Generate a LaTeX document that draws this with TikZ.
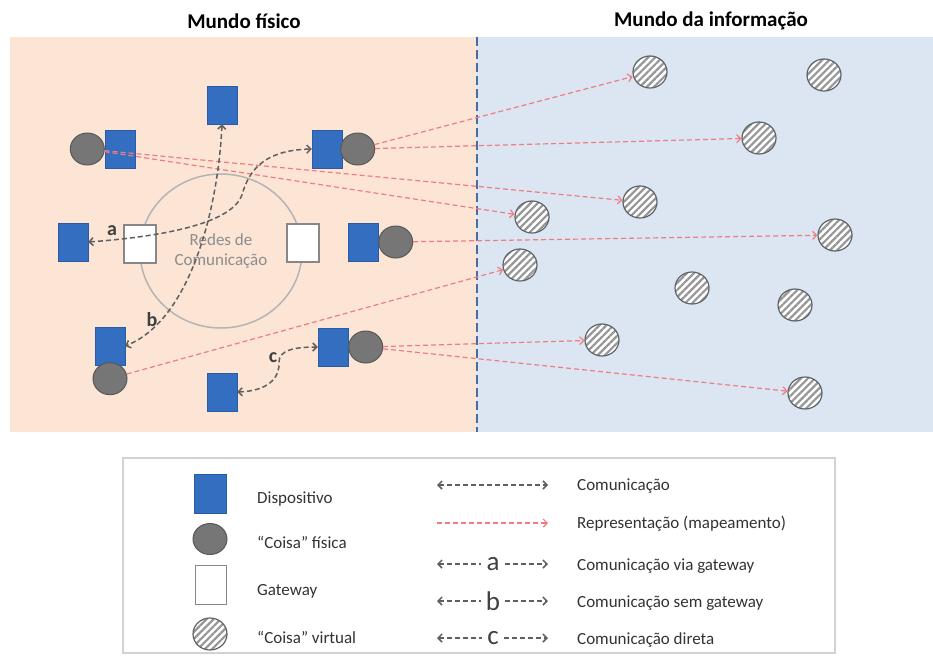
\documentclass[tikz,border=0pt]{standalone}
\usepackage{fontspec}
\setmainfont{Carlito}
\usetikzlibrary{arrows.meta,positioning,shapes.geometric,patterns.meta}

\definecolor{fisico}{RGB}{252,229,213}
\definecolor{info}{RGB}{220,230,242}
\definecolor{devblue}{RGB}{52,110,192}
\definecolor{devborder}{RGB}{42,92,165}
\definecolor{thinggray}{RGB}{118,118,118}
\definecolor{thingborder}{RGB}{88,88,88}
\definecolor{gwborder}{RGB}{135,135,135}
\definecolor{virtborder}{RGB}{95,100,105}
\definecolor{stripe}{RGB}{150,150,150}
\definecolor{netgray}{RGB}{180,180,180}
\definecolor{nettext}{RGB}{140,140,140}
\definecolor{repred}{RGB}{238,125,130}
\definecolor{commgray}{RGB}{95,95,95}
\definecolor{divider}{RGB}{72,108,168}

\begin{document}
\begin{tikzpicture}[x=1pt,y=-1pt,>={Straight Barb[length=4pt,width=8pt]},
    dispositivo/.style={draw=devborder,fill=devblue,minimum width=30pt,minimum height=38pt,inner sep=0pt},
    coisa/.style={ellipse,draw=thingborder,fill=thinggray,line width=1pt,minimum width=34pt,minimum height=32pt,inner sep=0pt},
    gateway/.style={draw=gwborder,fill=white,line width=1.2pt,minimum width=32pt,minimum height=38pt,inner sep=0pt},
    virtual/.style={ellipse,draw=virtborder,line width=1.2pt,preaction={fill=white},
        pattern={Lines[angle=45,distance=5pt,line width=2.2pt]},pattern color=stripe,
        minimum width=34pt,minimum height=32pt,inner sep=0pt},
    comm/.style={draw=commgray,line width=1.5pt,dash pattern=on 5pt off 3pt},
    repr/.style={draw=repred,line width=1.2pt,dash pattern=on 5pt off 3pt,->},
    titulo/.style={font=\fontsize{21}{24}\selectfont\bfseries},
    lab/.style={font=\fontsize{20}{20}\selectfont\bfseries,text=black!75,inner sep=1pt},
    leglet/.style={font=\fontsize{27}{27}\selectfont,text=black!75,inner xsep=5pt,inner ysep=0pt},
    legtext/.style={anchor=west,font=\fontsize{17}{20}\selectfont,text=black!80,inner sep=0pt}]

\useasboundingbox (0,0) rectangle (933,656);

% os dois mundos
\fill[fisico] (10,37) rectangle (477,432);
\fill[info] (477,37) rectangle (933,432);
\draw[divider,line width=2.5pt,dash pattern=on 9pt off 4pt] (477,37) -- (477,432);
\node[titulo] (tfis) at (244,21) {Mundo físico};
\node[titulo] (tinf) at (711,21) {Mundo da informação};

% rede e gateways
\node[ellipse,draw=netgray,line width=1.5pt,minimum width=162pt,minimum height=154pt,
      align=center,text=nettext,font=\fontsize{17}{20}\selectfont] (net) at (221,251) {Redes de\\Comunicação};
\node[gateway] (gw1) at (140,244) {};
\node[gateway] (gw2) at (303,243) {};

% dispositivos e coisas físicas
\node[dispositivo] (dev1) at (222,105) {};
\node[dispositivo] (dev2) at (120,149) {};
\node[coisa] (thing2) [left=0pt of dev2] {};
\node[dispositivo] (dev3) at (327,149) {};
\node[coisa] (thing3) [right=-2pt of dev3] {};
\node[dispositivo] (dev4) at (73,242) {};
\node[dispositivo] (dev5) at (363,242) {};
\node[coisa] (thing5) [right=0pt of dev5] {};
\node[dispositivo] (dev6) at (110,346) {};
\node[coisa] (thing6) [below=-3pt of dev6] {};
\node[dispositivo] (dev7) at (333,347) {};
\node[coisa] (thing7) [right=0pt of dev7] {};
\node[dispositivo] (dev8) at (222,392) {};

% coisas virtuais
\node[virtual] (virt1) at (650,72) {};
\node[virtual] (virt2) at (824,75) {};
\node[virtual] (virt3) at (759,138) {};
\node[virtual] (virt4) at (640,202) {};
\node[virtual] (virt5) at (532,217) {};
\node[virtual] (virt6) at (835,235) {};
\node[virtual] (virt7) at (520,265) {};
\node[virtual] (virt8) at (692,288) {};
\node[virtual] (virt9) at (795,305) {};
\node[virtual] (virt10) at (602,340) {};
\node[virtual] (virt11) at (805,393) {};

% representação
\draw[repr] (thing3) -- (virt1);
\draw[repr] (thing3) -- (virt3);
\draw[repr] (thing2) -- (virt4);
\draw[repr] (thing2) -- (virt5);
\draw[repr] (thing5) -- (virt6);
\draw[repr] (thing6) -- (virt7);
\draw[repr] (thing7) -- (virt10);
\draw[repr] (thing7) -- (virt11);

% comunicação
\draw[comm,<->] (dev4.east) .. controls (170,236) and (232,222) .. (242,195)
                .. controls (250,165) and (270,150) .. (dev3.west);
\draw[comm,<->] (dev1.south) .. controls (218,210) and (190,320) .. (dev6.east);
\draw[comm,<->] (dev8.east) .. controls (268,391) and (280,378) .. (279,362)
                .. controls (279,350) and (295,347) .. (dev7.west);
\node[lab] (la) at (112,231) {a};
\node[lab] (lb) at (152,320) {b};
\node[lab] (lc) at (273,358) {c};

% legenda
\draw[gray!35,line width=1.5pt,fill=white] (123,458) rectangle (835,653);
\node[dispositivo,minimum width=32pt,minimum height=39pt] (legdev) at (210,494) {};
\node[coisa,minimum width=34pt,minimum height=31pt] (legthing) at (210,539) {};
\node[gateway,minimum width=31pt,minimum height=39pt] (leggw) at (211,585) {};
\node[virtual,minimum width=34pt,minimum height=32pt] (legvirt) at (210,634) {};
\node[legtext] (tdev) at (257,499) {Dispositivo};
\node[legtext] (tthing) at (257,542) {“Coisa” física};
\node[legtext] (tgw) at (257,591) {Gateway};
\node[legtext] (tvirt) at (257,637) {“Coisa” virtual};

\coordinate (lc1) at (437,485);
\coordinate (rc1) at (548,485);
\coordinate (lr1) at (437,523);
\coordinate (rr1) at (548,523);
\coordinate (la1) at (437,564);
\coordinate (ra1) at (548,564);
\coordinate (lb1) at (437,601);
\coordinate (rb1) at (548,601);
\coordinate (lcc1) at (437,638);
\coordinate (rcc1) at (548,638);
\node[leglet] (lega) at (493,564) {a};
\node[leglet] (legb) at (493,601) {b};
\node[leglet] (legc) at (493,638) {c};

\draw[comm,<->] (lc1) -- (rc1);
\draw[repr] (lr1) -- (rr1);
\draw[comm,<-] (la1) -- (lega);
\draw[comm,->] (lega) -- (ra1);
\draw[comm,<-] (lb1) -- (legb);
\draw[comm,->] (legb) -- (rb1);
\draw[comm,<-] (lcc1) -- (legc);
\draw[comm,->] (legc) -- (rcc1);

\node[legtext] (tcomm) at (577,486) {Comunicação};
\node[legtext] (trepr) at (577,524) {Representação (mapeamento)};
\node[legtext] (tcomma) at (577,566) {Comunicação via gateway};
\node[legtext] (tcommb) at (577,603) {Comunicação sem gateway};
\node[legtext] (tcommc) at (577,640) {Comunicação direta};
\end{tikzpicture}
\end{document}
